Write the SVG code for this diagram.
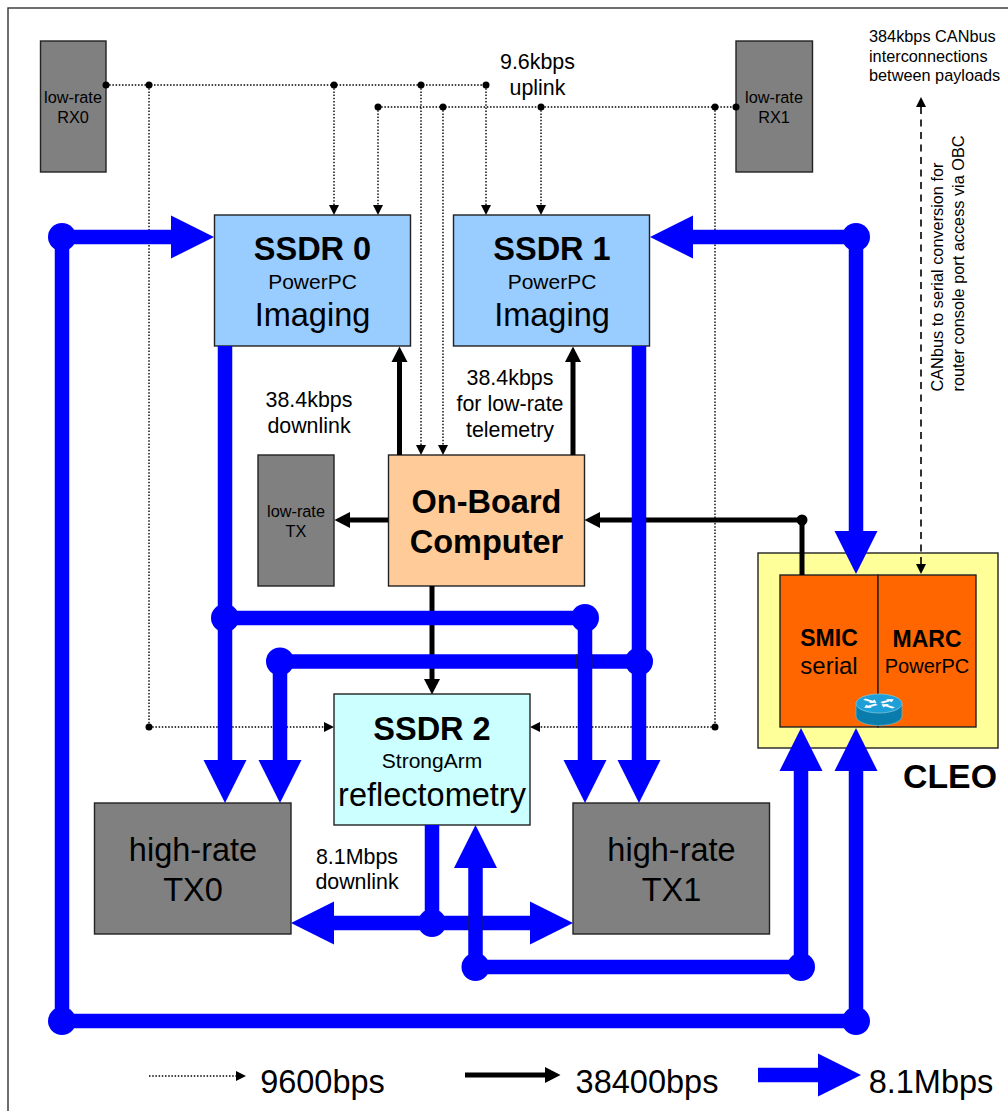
<svg xmlns="http://www.w3.org/2000/svg" width="1008" height="1111" viewBox="0 0 1008 1111">
<style>
text{font-family:"Liberation Sans",Arial,sans-serif;fill:#000;text-anchor:middle}
.b{font-weight:bold}
.s{text-anchor:start}
.box{stroke:#222;stroke-width:1.4}
.gray{fill:#808080}
.ssdr{fill:#99ccff}
.dot{fill:#000}
.blue{fill:#00f}
.thick{stroke:#00f;stroke-width:14.5;fill:none}
.med{stroke:#000;stroke-width:5;fill:none}
.fine{stroke:#000;stroke-width:1.4;stroke-dasharray:1.5 1.7;fill:none}
.dash{stroke:#000;stroke-width:1.6;stroke-dasharray:7 5.5;fill:none}
.seam{stroke:#223;stroke-width:0.8}
</style>
<defs>
<marker id="hb" markerUnits="userSpaceOnUse" markerWidth="44" markerHeight="44" refX="0" refY="22" orient="auto-start-reverse"><path d="M0 0.5L43 22L0 43.5Z" fill="#00f"/></marker>
<marker id="hk" markerUnits="userSpaceOnUse" markerWidth="16" markerHeight="18" refX="0" refY="9" orient="auto-start-reverse"><path d="M0 1L15.500 9L0 17Z" fill="#000"/></marker>
<marker id="hf" markerUnits="userSpaceOnUse" markerWidth="11" markerHeight="12" refX="0" refY="6" orient="auto-start-reverse"><path d="M0 1L10 6L0 11Z" fill="#000"/></marker>
<path id="ra" d="M3 0L9 -5V-2H18V2H9V5Z" fill="#fff"/>
</defs>
<rect width="1008" height="1111" fill="#fff"/>
<rect x="8" y="8" width="1020" height="1125" fill="none" stroke="#333" stroke-width="1.4"/>

<g id="node-rx0"><rect class="box gray" x="40.500" y="41" width="65.500" height="131"/><text x="73" y="103" font-size="16.300">low-rate</text><text x="73" y="123" font-size="16.300">RX0</text></g>
<g id="node-rx1"><rect class="box gray" x="736" y="41" width="76.500" height="131"/><text x="774" y="103" font-size="16.300">low-rate</text><text x="774" y="123" font-size="16.300">RX1</text></g>
<g id="node-ssdr0"><rect class="box ssdr" x="214.500" y="215" width="196" height="131"/><text class="b" x="312.500" y="260" font-size="32.500">SSDR 0</text><text x="312.500" y="289" font-size="21">PowerPC</text><text x="312.500" y="326" font-size="32.500">Imaging</text></g>
<g id="node-ssdr1"><rect class="box ssdr" x="453.500" y="215" width="196" height="131"/><text class="b" x="552" y="260" font-size="32.500">SSDR 1</text><text x="552" y="289" font-size="21">PowerPC</text><text x="552" y="326" font-size="32.500">Imaging</text></g>
<g id="node-tx"><rect class="box gray" x="258" y="455" width="76" height="131"/><text x="296" y="517" font-size="16.300">low-rate</text><text x="296" y="537" font-size="16.300">TX</text></g>
<g id="node-obc"><rect class="box" fill="#ffcc99" x="388.500" y="455" width="196" height="131"/><text class="b" x="486.500" y="513" font-size="32.500">On-Board</text><text class="b" x="486.500" y="553" font-size="32.500">Computer</text></g>
<g id="node-ssdr2"><rect class="box" fill="#ccffff" x="334" y="694" width="196" height="131"/><text class="b" x="432" y="740" font-size="32.500">SSDR 2</text><text x="432" y="768" font-size="21">StrongArm</text><text x="432" y="806" font-size="32.500">reflectometry</text></g>
<g id="node-htx0"><rect class="box gray" x="94.500" y="803" width="196.500" height="131"/><text x="193" y="861" font-size="32.500">high-rate</text><text x="193" y="901" font-size="32.500">TX0</text></g>
<g id="node-htx1"><rect class="box gray" x="573" y="803" width="196.500" height="131"/><text x="671.500" y="861" font-size="32.500">high-rate</text><text x="671.500" y="901" font-size="32.500">TX1</text></g>
<g id="node-cleo"><rect class="box" fill="#ffff99" x="758" y="553" width="240" height="195"/><text class="b" x="950" y="788" font-size="33.800">CLEO</text></g>
<g id="node-smic"><rect class="box" fill="#ff6600" x="780" y="575" width="98" height="152"/><text class="b" x="829" y="646" font-size="23">SMIC</text><text x="829" y="674" font-size="24">serial</text></g>
<g id="node-marc"><rect class="box" fill="#ff6600" x="878" y="575" width="98" height="152"/><text class="b" x="927" y="647" font-size="23">MARC</text><text x="927" y="673" font-size="20">PowerPC</text></g>

<g id="connectors">
<path class="fine" d="M106 85H486M378 107H736M149 85V727M715 107V727"/>
<path class="fine" marker-end="url(#hf)" d="M334 85V205"/>
<path class="fine" marker-end="url(#hf)" d="M378 107V205"/>
<path class="fine" marker-end="url(#hf)" d="M486 85V205"/>
<path class="fine" marker-end="url(#hf)" d="M541 107V205"/>
<path class="fine" marker-end="url(#hf)" d="M421 85V445"/>
<path class="fine" marker-end="url(#hf)" d="M443 107V445"/>
<path class="fine" marker-end="url(#hf)" d="M149 727H324"/>
<path class="fine" marker-end="url(#hf)" d="M715 727H540"/>
<g class="dot">
<circle cx="106" cy="85" r="3.500"/><circle cx="149" cy="85" r="3.500"/><circle cx="334" cy="85" r="3.500"/><circle cx="421" cy="85" r="3.500"/><circle cx="486" cy="85" r="3.500"/>
<circle cx="378" cy="107" r="3.500"/><circle cx="443" cy="107" r="3.500"/><circle cx="541" cy="107" r="3.500"/><circle cx="715" cy="107" r="3.500"/><circle cx="736" cy="107" r="3.500"/>
<circle cx="149" cy="727" r="3.500"/><circle cx="715" cy="727" r="3.500"/>
</g>
<path class="dash" marker-start="url(#hf)" marker-end="url(#hf)" d="M921 107V564"/>

<path class="med" marker-end="url(#hk)" d="M399.500 455V362"/>
<path class="med" marker-end="url(#hk)" d="M573 455V362"/>
<path class="med" marker-end="url(#hk)" d="M388 520H350"/>
<path class="med" marker-end="url(#hk)" d="M802 520H600"/>
<path class="med" d="M802 520V575"/>
<path class="med" marker-end="url(#hk)" d="M432 586V679"/>
<circle class="dot" cx="802" cy="520" r="5.500"/>

<path class="thick" d="M225 618H585"/>
<path class="thick" d="M280 661.500H639"/>
<path class="thick" marker-end="url(#hb)" d="M225 346V760"/>
<path class="thick" marker-end="url(#hb)" d="M585 618V760"/>
<path class="thick" marker-end="url(#hb)" d="M280 661.500V760"/>
<path class="thick" marker-end="url(#hb)" d="M639 346V760"/>
<path class="thick" marker-end="url(#hb)" d="M62 237H171"/>
<path class="thick" marker-end="url(#hb)" d="M856 237H693"/>
<path class="thick" d="M62 237V1021H856"/>
<path class="thick" marker-end="url(#hb)" d="M856 237V531"/>
<path class="thick" marker-end="url(#hb)" d="M856 1021V771"/>
<path class="thick" d="M432 825V923"/>
<path class="thick" marker-start="url(#hb)" marker-end="url(#hb)" d="M334 923H530"/>
<path class="thick" marker-end="url(#hb)" d="M475.500 967V868"/>
<path class="thick" d="M475.500 967H801"/>
<path class="thick" marker-end="url(#hb)" d="M801 967V771"/>
<path class="seam" d="M576.500 654V668M592 654V668M468.200 916V930M483 916V930"/>
<g class="blue">
<circle cx="62" cy="237" r="14"/><circle cx="856" cy="237" r="14"/><circle cx="225" cy="618" r="14"/><circle cx="585" cy="618" r="14"/><circle cx="280" cy="661.500" r="14"/><circle cx="639" cy="661.500" r="14"/><circle cx="432" cy="923" r="14"/><circle cx="475.500" cy="967" r="14"/><circle cx="801" cy="967" r="14"/><circle cx="62" cy="1021" r="14"/><circle cx="856" cy="1021" r="14"/>
</g>
</g>

<g id="router">
<path d="M856 703V716C856 721.500 866 725.500 879 725.500S902 721.500 902 716V703Z" fill="#0a7cab" stroke="#6bc" stroke-width="0.7"/>
<ellipse cx="879" cy="703.500" rx="23" ry="9.500" fill="#1f9fd8" stroke="#8cd" stroke-width="0.7"/>
<g transform="translate(879 703.500) scale(1 .42)">
<use href="#ra" transform="rotate(215)"/>
<use href="#ra" transform="rotate(35)"/>
<use href="#ra" transform="rotate(-35) translate(21 0) rotate(180)"/>
<use href="#ra" transform="rotate(145) translate(21 0) rotate(180)"/>
</g>
</g>

<g id="labels">
<text x="537.500" y="68.500" font-size="21.400">9.6kbps</text>
<text x="537.500" y="94.500" font-size="21.400">uplink</text>
<text x="309" y="407" font-size="21.400">38.4kbps</text>
<text x="309" y="432.500" font-size="21.400">downlink</text>
<text x="510" y="385" font-size="21.400">38.4kbps</text>
<text x="510" y="410.500" font-size="21.400">for low-rate</text>
<text x="510" y="436.500" font-size="21.400">telemetry</text>
<text x="357" y="864" font-size="21.400">8.1Mbps</text>
<text x="357" y="889" font-size="21.400">downlink</text>
<text class="s" x="869" y="42" font-size="16.300">384kbps CANbus</text>
<text class="s" x="869" y="62" font-size="16.300">interconnections</text>
<text class="s" x="869" y="81" font-size="16.300">between payloads</text>
<text class="s" transform="translate(943 391.500) rotate(-90)" font-size="16.300">CANbus to serial conversion for</text>
<text class="s" transform="translate(964 391.500) rotate(-90)" font-size="16.300">router console port access via OBC</text>
</g>

<g id="legend">
<path class="fine" marker-end="url(#hf)" d="M149 1076H236"/>
<path class="med" marker-end="url(#hk)" d="M465 1075H545"/>
<path class="thick" marker-end="url(#hb)" d="M758 1075H818"/>
<text x="322.500" y="1093" font-size="32.500">9600bps</text>
<text x="647" y="1093" font-size="32.500">38400bps</text>
<text x="931" y="1093" font-size="32.500">8.1Mbps</text>
</g>
</svg>
